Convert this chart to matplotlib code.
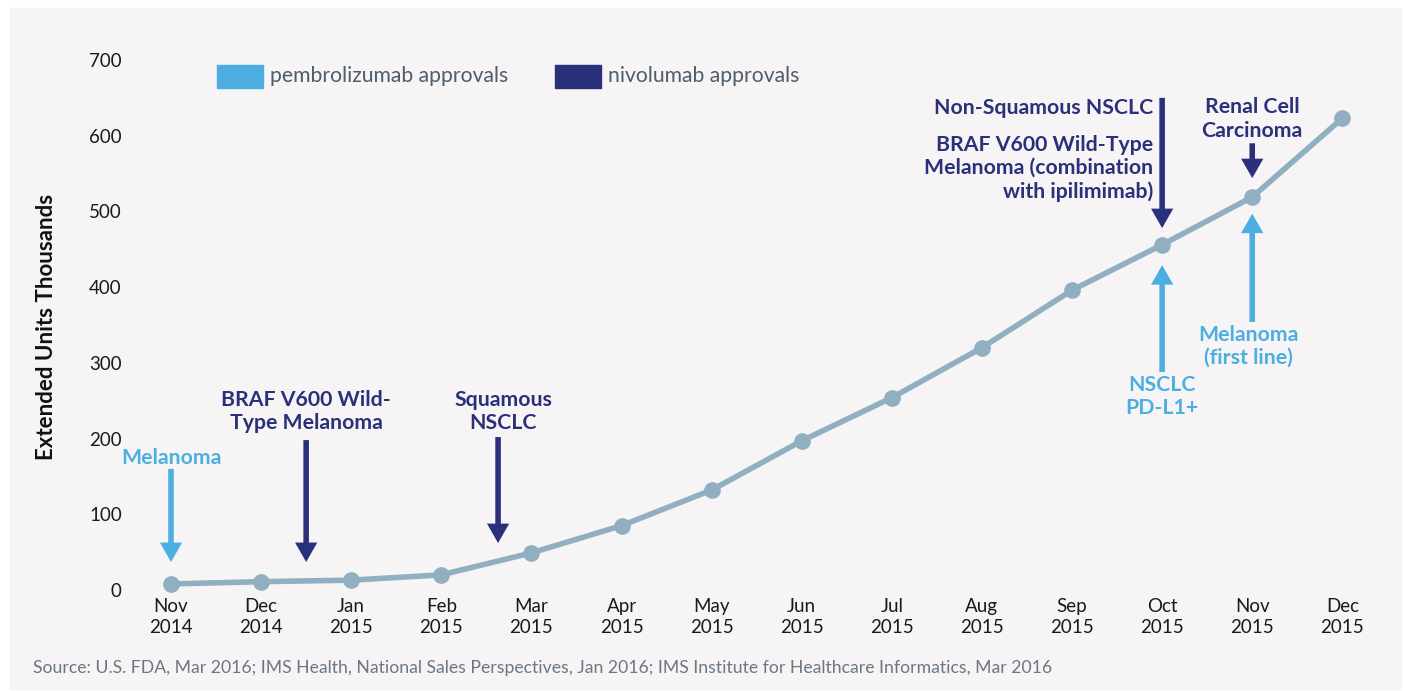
import matplotlib
matplotlib.use("Agg")
import matplotlib.pyplot as plt
from matplotlib.patches import Rectangle

# monthly extended units (thousands)
months = ["Nov\n2014", "Dec\n2014", "Jan\n2015", "Feb\n2015", "Mar\n2015", "Apr\n2015",
          "May\n2015", "Jun\n2015", "Jul\n2015", "Aug\n2015", "Sep\n2015", "Oct\n2015",
          "Nov\n2015", "Dec\n2015"]
units = [8, 11, 13, 20, 49, 85, 132, 197, 254, 320, 396, 456, 519, 623]
yticks = [0, 100, 200, 300, 400, 500, 600, 700]

PEMBRO = "#4daee1"
NIVO = "#2b307b"
LINE = "#90afc1"
BG = "#f6f4f5"

# approvals: (label, color, text x, text y, align, arrow x, arrow tail y, arrow tip y)
approvals = [
    ("Melanoma", PEMBRO, 0.0, 174, "center", 0.0, 160, 37),
    ("BRAF V600 Wild-\nType Melanoma", NIVO, 1.5, 236, "center", 1.5, 198, 37),
    ("Squamous\nNSCLC", NIVO, 3.69, 236, "center", 3.63, 202, 62),
    ("Non-Squamous NSCLC", NIVO, 10.9, 637, "right", 11.0, 650, 478),
    ("BRAF V600 Wild-Type\nMelanoma (combination\nwith ipilimimab)", NIVO, 10.9, 557, "right", None, None, None),
    ("NSCLC\nPD-L1+", PEMBRO, 11.0, 256, "center", 11.0, 288, 429),
    ("Renal Cell\nCarcinoma", NIVO, 12.0, 622, "center", 12.0, 590, 544),
    ("Melanoma\n(first line)", PEMBRO, 11.96, 322, "center", 12.0, 354, 497),
]

W, H = 1405, 691
plt.rcParams["font.family"] = ["Lato", "DejaVu Sans"]

fig = plt.figure(figsize=(W / 100, H / 100), dpi=100)
fig.patch.set_facecolor("white")


def fx(px):
    return px / W


def fy(py):
    return 1 - py / H


# light panel behind everything
fig.patches.append(Rectangle((fx(10), fy(689)), fx(1391), 681 / H,
                             transform=fig.transFigure, color=BG, zorder=-1))

ax = fig.add_axes([fx(135), fy(595), fx(1255), 545 / H])
ax.set_facecolor("none")
ax.set_xlim(-0.3996, 13.529)
ax.set_ylim(-6.6, 713.2)

x = list(range(len(months)))
ax.plot(x, units, color=LINE, lw=4, marker="o", ms=11, clip_on=False, zorder=3)

ax.set_xticks(x)
ax.set_xticklabels(months, fontsize=13.5, color="#1a1a1a", linespacing=1.3)
ax.set_yticks(yticks)
ax.set_yticklabels([str(v) for v in yticks], fontsize=13.5, color="#1a1a1a")
ax.tick_params(axis="y", length=0, pad=9.5)
ax.tick_params(axis="x", length=0, pad=2)
for s in ax.spines.values():
    s.set_visible(False)

ax.set_ylabel("Extended Units Thousands", fontsize=16, fontweight="bold", color="#111111")
ax.yaxis.set_label_coords((57 - 135) / 1255, (595 - 327) / 545)

for label, col, tx, ty, ha, axx, tail, tip in approvals:
    ax.text(tx, ty, label, color=col, fontsize=15.3, fontweight="bold",
            ha=ha, va="center", linespacing=1.2, multialignment=ha)
    if axx is not None:
        ax.annotate("", xy=(axx, tip), xytext=(axx, tail),
                    arrowprops=dict(arrowstyle="simple,head_length=1.4,head_width=1.6,tail_width=0.4",
                                    color=col, lw=0, mutation_scale=10,
                                    shrinkA=0, shrinkB=0), zorder=4)

# legend
for x0, col, txt in [(217, PEMBRO, "pembrolizumab approvals"), (555, NIVO, "nivolumab approvals")]:
    fig.patches.append(Rectangle((fx(x0), fy(88)), fx(46), 23 / H,
                                 transform=fig.transFigure, color=col, zorder=2))
    fig.text(fx(x0 + 53), fy(76), txt, fontsize=15.2, color="#4e5d6a", va="center", ha="left")

fig.text(fx(33), fy(668), "Source: U.S. FDA, Mar 2016; IMS Health, National Sales Perspectives, "
         "Jan 2016; IMS Institute for Healthcare Informatics, Mar 2016",
         fontsize=12.7, color="#6b7782", va="center", ha="left")

fig.savefig("out.png", dpi=100)
